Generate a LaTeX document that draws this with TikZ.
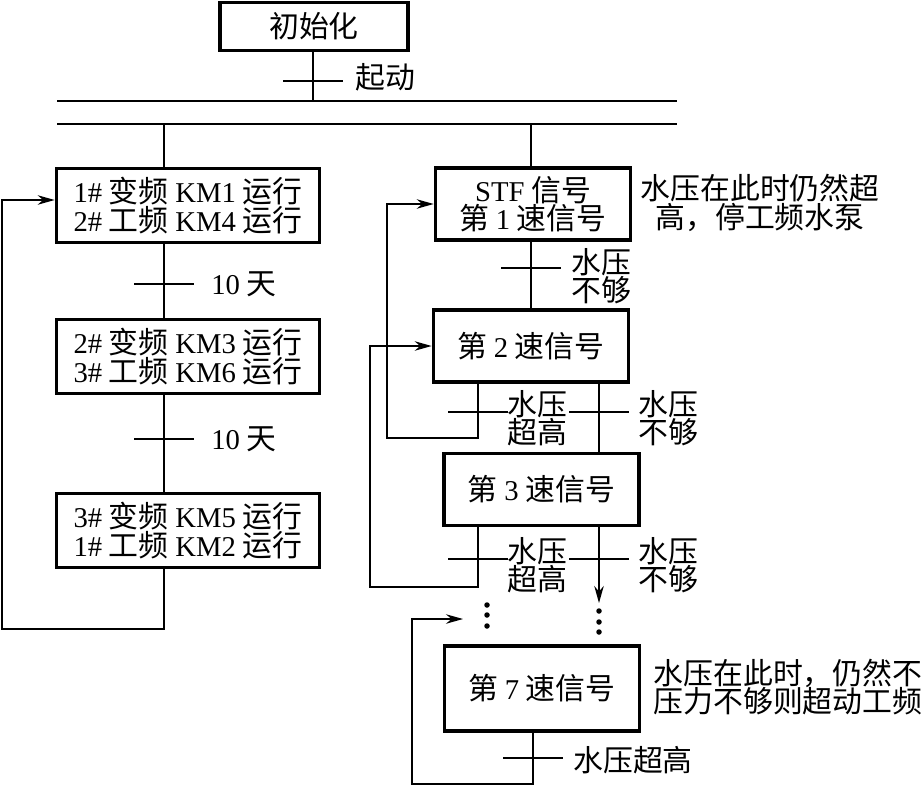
\documentclass[tikz,border=0pt]{standalone}
\usepackage{fontspec}
\setmainfont{Liberation Serif}[Scale=0.96]
\newfontfamily\cjk{Noto Sans CJK SC}
\newcommand{\rmn}[1]{{\rmfamily #1}}
\usetikzlibrary{arrows.meta, positioning, calc}

\begin{document}
\begin{tikzpicture}[
  x=0.2mm, y=-0.2mm,
  >={Stealth[length=3.4mm, width=1.9mm]},
  line width=0.75pt,
  every node/.style = {font={\cjk\fontsize{17pt}{16.2pt}\selectfont\lineskiplimit=-6pt\relax}},
  lbox/.style = {draw, line width=2.1pt, rectangle, minimum width=52.6mm, minimum height=14.8mm, align=center, inner sep=0pt},
  rbox/.style = {draw, line width=2.1pt, rectangle, minimum width=39mm, minimum height=14.4mm, align=center, inner sep=0pt},
  note/.style = {align=center, inner sep=0pt},
  dot/.style  = {circle, fill, inner sep=0pt, minimum size=1.1mm},
]
\useasboundingbox (0,0) rectangle (924,785);

%── Nodes ─────────────────────────────────────────────────────────────────────
\node[lbox, minimum width=37.6mm, minimum height=9.6mm] (init) at (314, 26.5) {初始化};

% left column: pump rotation
\node[lbox] (kmA) at (188, 205.5) {\rmn{1\#} 变频 \rmn{KM1} 运行\\\rmn{2\#} 工频 \rmn{KM4} 运行};
\node[lbox] (kmB) at (188, 356.5) {\rmn{2\#} 变频 \rmn{KM3} 运行\\\rmn{3\#} 工频 \rmn{KM6} 运行};
\node[lbox] (kmC) at (188, 530.5) {\rmn{3\#} 变频 \rmn{KM5} 运行\\\rmn{1\#} 工频 \rmn{KM2} 运行};

% right column: speed steps
\node[rbox] (spd1) at (533, 204)   {\rmn{STF} 信号\\第 \rmn{1} 速信号};
\node[rbox] (spd2) at (531, 346)   {第 \rmn{2} 速信号};
\node[rbox] (spd3) at (541.5, 489.5) {第 \rmn{3} 速信号};
\node[rbox, minimum height=17mm] (spd7) at (542, 688.5) {第 \rmn{7} 速信号};

% side notes
\node[note] (note1) at (760, 203) {水压在此时仍然超\\高，停工频水泵};
\node[note] (note7) at (788, 687) {水压在此时，仍然不\\压力不够则超动工频};

%── Transition labels ─────────────────────────────────────────────────────────
\node[anchor=west]             (lblgo)  at (349, 77)  {起动};
\node[anchor=west]             (lbl10a) at (205, 284) {\rmn{10} 天};
\node[anchor=west]             (lbl10b) at (205, 439) {\rmn{10} 天};
\node[anchor=west, align=left] (lbllo1) at (565, 276) {水压\\不够};
\node[align=center]            (lblhi2) at (537, 418) {水压\\超高};
\node[anchor=west, align=left] (lbllo2) at (632, 418) {水压\\不够};
\node[align=center]            (lblhi3) at (537, 565) {水压\\超高};
\node[anchor=west, align=left] (lbllo3) at (632, 565) {水压\\不够};
\node[anchor=west]             (lblhi7) at (567, 760) {水压超高};

%── Pickup coordinates ────────────────────────────────────────────────────────
\coordinate (bus1L) at (57, 101);   \coordinate (bus1R) at (677, 101);
\coordinate (bus2L) at (57, 124);   \coordinate (bus2R) at (677, 124);
\coordinate (tgo)   at (313, 81);   % start transition
\coordinate (ltop)  at (164, 124);  % left branch
\coordinate (tA)    at (164, 284);
\coordinate (tB)    at (164, 439);
\coordinate (lbot)  at (164, 629);
\coordinate (lret)  at (2, 200);
\coordinate (rtop)  at (531, 124);  % right branch
\coordinate (t1)    at (531, 268);
\coordinate (hi2)   at (478, 412);  \coordinate (lo2) at (599, 412);
\coordinate (ret1)  at (387, 438);
\coordinate (hi3)   at (478, 559);  \coordinate (lo3) at (599, 559);
\coordinate (ret2)  at (370, 587);
\coordinate (dn3)   at (599, 603);
\coordinate (hi7)   at (533, 758);
\coordinate (ret7)  at (412, 784);
\coordinate (in7)   at (463, 619);

%── Start and parallel branch ─────────────────────────────────────────────────
\draw (init.south -| tgo) -- (bus1L -| tgo);
\draw (bus1L) -- (bus1R);
\draw (bus2L) -- (bus2R);

%── Left branch ───────────────────────────────────────────────────────────────
\draw (ltop) -- (kmA.north -| ltop);
\draw (kmA.south -| ltop) -- (kmB.north -| ltop);
\draw (kmB.south -| ltop) -- (kmC.north -| ltop);
\draw[->] (kmC.south -| lbot) -- (lbot) -- (lret |- lbot) -- (lret) -- (lret -| kmA.west);

%── Right branch ──────────────────────────────────────────────────────────────
\draw (rtop) -- (spd1.north -| rtop);
\draw (spd1.south -| rtop) -- (spd2.north -| rtop);
\draw[->] (spd2.south -| hi2) -- (ret1 -| hi2) -- (ret1) -- (ret1 |- spd1.west) -- (spd1.west);
\draw (spd2.south -| lo2) -- (spd3.north -| lo2);
\draw[->] (spd3.south -| hi3) -- (ret2 -| hi3) -- (ret2) -- (ret2 |- spd2.west) -- (spd2.west);
\draw[->] (spd3.south -| lo3) -- (dn3);
\draw[->] (spd7.south -| hi7) -- (ret7 -| hi7) -- (ret7) -- (ret7 |- in7) -- (in7);

%── Transition bars ───────────────────────────────────────────────────────────
\foreach \t in {tgo, tA, tB, t1, hi2, lo2, hi3, lo3, hi7}
  \draw (\t) ++(-30,0) -- ++(60,0);

%── Continuation dots ─────────────────────────────────────────────────────────
\foreach \y [count=\i] in {605, 615, 626} \node[dot] (dotl\i) at (487, \y) {};
\foreach \y [count=\i] in {611, 622, 632} \node[dot] (dotr\i) at (599, \y) {};

\end{tikzpicture}
\end{document}
